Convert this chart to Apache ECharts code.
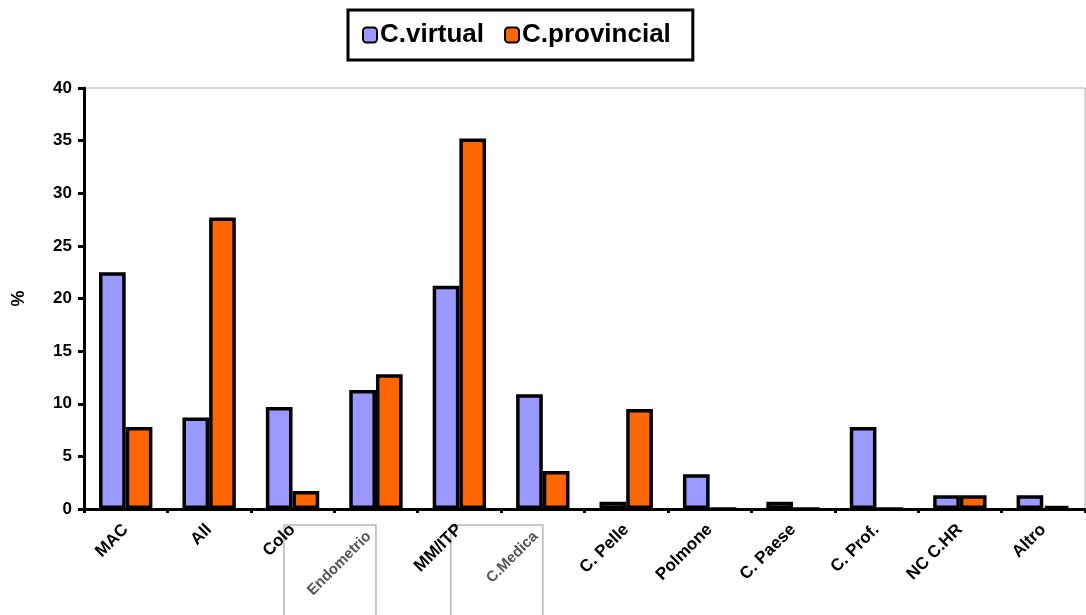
<!DOCTYPE html>
<html>
<head>
<meta charset="utf-8">
<script src="https://cdn.jsdelivr.net/npm/echarts@6/dist/echarts.min.js"></script>
<style>
  html, body { margin: 0; padding: 0; background: #fff; }
  #chart { width: 1086px; height: 615px; }
</style>
</head>
<body>
<div id="chart"></div>
<script>
// Categories along the x axis
const categories = ['MAC', 'All', 'Colo', 'Endometrio', 'MM/ITP', 'C.Medica',
  'C. Pelle', 'Polmone', 'C. Paese', 'C. Prof.', 'NC C.HR', 'Altro'];
// Percentages per category
const virtualValues    = [22.5, 8.7, 9.7, 11.3, 21.2, 10.9, 0.7, 3.3, 0.7, 7.8, 1.3, 1.3];
const provincialValues = [7.8, 27.7, 1.7, 12.8, 35.2, 3.6, 9.5, 0, 0, 0, 1.3, 0.3];
const seriesNames = ['C.virtual', 'C.provincial'];
const yTicks = [0, 5, 10, 15, 20, 25, 30, 35, 40];
// Categories whose labels sit in a framed panel
const framedCategories = ['Endometrio', 'C.Medica'];

const chart = echarts.init(document.getElementById('chart'));
const FONT = '"Liberation Sans", Arial, sans-serif';

chart.setOption({
  animation: false,
  backgroundColor: '#ffffff',
  legend: {
    top: 10,
    left: 348,
    padding: [12, 22, 12, 14],
    borderColor: '#000',
    borderWidth: 3,
    itemWidth: 14,
    itemHeight: 15,
    itemGap: 20,
    textStyle: { fontFamily: FONT, fontWeight: 900, fontSize: 26, color: '#000', padding: [0, 0, 0, -2] },
    data: seriesNames.map(n => ({ name: n, itemStyle: { borderColor: '#000', borderWidth: 2 } }))
  },
  grid: {
    left: 84, right: 1, top: 88, bottom: 106,
    outerBoundsMode: 'none',
    show: true, borderColor: '#b0b0b0', borderWidth: 1
  },
  xAxis: {
    type: 'category',
    data: categories,
    axisLine: { lineStyle: { color: '#000', width: 3 } },
    axisTick: { show: true, length: 4, lineStyle: { color: '#000', width: 3 } },
    axisLabel: {
      interval: 0,
      rotate: 45,
      margin: 18,
      fontFamily: FONT,
      fontWeight: 'bold',
      fontSize: 17,
      color: '#000',
      formatter: v => framedCategories.includes(v) ? '{g|' + v + '}' : v,
      rich: { g: { color: '#555', fontWeight: 'bold', fontSize: 15, fontFamily: FONT, padding: [0, 10, 0, 0] } }
    }
  },
  yAxis: {
    type: 'value',
    min: 0,
    max: 40,
    interval: 5,
    name: '%',
    nameLocation: 'middle',
    nameGap: 56,
    nameRotate: 90,
    nameTextStyle: { fontFamily: FONT, fontWeight: 'bold', fontSize: 18, color: '#000' },
    axisLine: { show: true, lineStyle: { color: '#000', width: 3 } },
    axisTick: { show: true, length: 6, lineStyle: { color: '#000', width: 3 } },
    splitLine: { show: false },
    axisLabel: {
      margin: 12,
      fontFamily: FONT,
      fontWeight: 'bold',
      fontSize: 17,
      color: '#000',
      formatter: v => yTicks.includes(v) ? String(v) : ''
    }
  },
  series: [
    {
      name: seriesNames[0],
      type: 'bar',
      data: virtualValues,
      barGap: '0%',
      barCategoryGap: '36%',
      itemStyle: { color: '#9999ff', borderColor: '#000', borderWidth: 3.5 }
    },
    {
      name: seriesNames[1],
      type: 'bar',
      data: provincialValues,
      itemStyle: { color: '#ff6600', borderColor: '#000', borderWidth: 3.5 }
    }
  ]
});

// Frame panels behind the highlighted category labels
const frames = framedCategories.map(name => {
  const cx = chart.convertToPixel({ xAxisIndex: 0 }, name);
  const y0 = chart.convertToPixel({ yAxisIndex: 0 }, 0);
  return {
    type: 'rect',
    z: -1,
    shape: { x: cx - 92, y: y0 + 16, width: 92, height: 120 },
    style: { fill: '#fff', stroke: '#b8b8b8', lineWidth: 1.5 }
  };
});
chart.setOption({ graphic: frames });
</script>
</body>
</html>
